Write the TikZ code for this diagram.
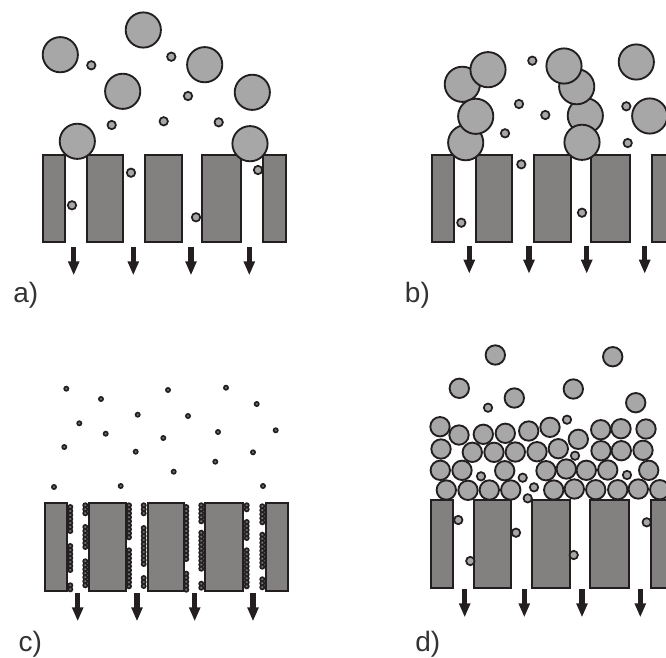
\documentclass[tikz,border=0pt]{standalone}
\usepackage{fontspec}
\setmainfont{Liberation Sans}
\usetikzlibrary{arrows.meta}
\definecolor{grainfill}{HTML}{A7A7A7}
\definecolor{wallfill}{HTML}{828180}
\definecolor{inkline}{HTML}{231F20}
\tikzset{
  biggrain/.style={draw=inkline, line width=1.4pt, fill=grainfill},
  smallgrain/.style={draw=inkline, line width=1.3pt, fill=grainfill},
  tinygrain/.style={draw=inkline, line width=1.25pt, fill=grainfill!60!inkline},
  wall/.style={draw=inkline, line width=1.3pt, fill=wallfill},
  flow/.style={draw=inkline, line width=4pt, -{Triangle[length=10.5pt,width=8pt,fill=inkline]}},
  panel/.style={anchor=base west, inner sep=0pt, font=\fontsize{21}{25}\selectfont, text=black!80}
}
\begin{document}
\begin{tikzpicture}[x=0.75pt, y=-0.75pt]
  \useasboundingbox (0,0) rectangle (666,657);
  \clip (0,0) rectangle (666,657);
  % a)
  \foreach \xa/\xb in {42.7/65, 86.7/123.3, 144.7/181.7, 202.3/240.7, 263/285.7}
    \draw[wall] (\xa,155) rectangle (\xb,241.7);
  \foreach \x/\y in {60.3/54.7, 143.3/30, 122.7/91.3, 204.7/64.7, 252.3/92.3, 77.3/141.3, 250/143.7}
    \draw[biggrain] (\x,\y) circle[radius=17.6];
  \foreach \x/\y in {91.3/65.3, 171.3/56.7, 188/96, 111.7/125, 163.7/121.3, 218.7/122.3, 131/172.7, 72/205.3, 196/217.3, 258/170}
    \draw[smallgrain] (\x,\y) circle[radius=4.2];
  \foreach \x in {73.7, 133.3, 191, 249.3}
    \draw[flow] (\x,247.3) -- (\x,275.3);
  \node[panel] (labela) at (13,302) {a)};
  % b)
  \foreach \xa/\xb in {432/454, 475.7/512.3, 533.7/570.7, 591.3/629.7, 652/680}
    \draw[wall] (\xa,155) rectangle (\xb,241.7);
  \foreach \x/\y in {462.3/84.3, 488/69.7, 465.7/142.7, 475.7/116.3, 585.3/115.7, 576.7/86.7, 564/66, 582/142.3, 636.3/62, 649.7/116}
    \draw[biggrain] (\x,\y) circle[radius=17.6];
  \foreach \x/\y in {532.3/60.7, 519/104, 545.3/115, 505/133.3, 521.3/164.3, 461.3/222.7, 582/212.7, 626.3/106.3, 627.7/143}
    \draw[smallgrain] (\x,\y) circle[radius=4.2];
  \foreach \x in {469.3, 529, 586.7, 644.7}
    \draw[flow] (\x,245.7) -- (\x,273.7);
  \node[panel] (labelb) at (404.7,302) {b)};
  % c)
  \foreach \xa/\xb in {45.3/66.7, 89.3/126, 147.7/184, 205.3/243.3, 265.7/288.3}
    \draw[wall] (\xa,503.3) rectangle (\xb,590.7);
  \foreach \x/\y in {66.3/388.7, 101/399, 168/390, 226/387.7, 256.7/404, 137.7/414.7, 188/416, 79.3/423.3, 105.7/433.7, 163.3/438, 218/432, 275.7/430.3, 64.3/447, 135.7/451.7, 253/452.3, 215.3/461.7, 173.7/471.7, 54/487, 120.7/486, 263/486}
    \draw[tinygrain] (\x,\y) circle[radius=2.1];
  \foreach \x/\y/\n in {70.3/507/6, 70.3/546/6, 70.3/585.3/1,
      85.3/505.3/2, 85.3/527/5, 85.3/561.3/6,
      129/505.3/8, 129/550.3/9,
      143.7/505.3/2, 143.7/528/9, 143.7/578/2,
      186.3/507/13, 186.3/573.7/4,
      201.3/505.3/4, 201.3/532.7/9, 201.3/583.7/1,
      246.7/505.3/1, 246.7/522/4, 246.7/550.3/9,
      262.3/506.3/4, 262.3/534.7/8, 262.3/579.3/2}
    \foreach \i in {0,...,\n}
      \draw[tinygrain] (\x,\y+4*\i) circle[radius=2.1];
  \foreach \x in {77.7, 137, 194.7, 253}
    \draw[flow] (\x,593.3) -- (\x,621.3);
  \node[panel] (labelc) at (18.3,651) {c)};
  % d)
  \foreach \xa/\xb in {431/453, 474.3/511.3, 532.3/569.7, 590.3/629, 651/680}
    \draw[wall] (\xa,500.3) rectangle (\xb,587.7);
  \foreach \x/\y in {495.3/355, 612.7/356.7, 459.3/388.3, 573.3/389, 514.3/398, 635.7/402.7,
      440/426.7, 459/435, 483.3/434.3, 505.3/433.3, 528.7/431, 550/427.3, 578.3/439.3, 600.7/429.7, 621/428.7, 646/429,
      441/449, 472.3/452.3, 494/452.3, 515.3/452, 537/451.7, 558.3/448.7, 601/450.7, 621.3/450.7, 643/450.3,
      440.3/470.3, 462/470.3, 504.7/470.7, 546/470.7, 566.3/469, 586.3/470.3, 607.7/470, 648.7/470.3,
      446.3/490, 468/490.3, 489.3/490, 510.7/490, 553.7/490, 574.3/489, 595.7/489.7, 617.7/489.7, 638.3/489, 659.7/489.7}
    \draw[biggrain] (\x,\y) circle[radius=9.7];
  \foreach \x/\y in {488/407.7, 567/419.7, 575/455.7, 481/476.3, 522.7/477.7, 534/487.3, 527.7/498.3, 627/475,
      458.3/520, 470.3/561, 516/532.7, 573.7/555, 646.7/522.3}
    \draw[smallgrain] (\x,\y) circle[radius=4.2];
  \foreach \x in {464.7, 524.3, 582, 640.3}
    \draw[flow] (\x,589.3) -- (\x,617.3);
  \node[panel] (labeld) at (415,651) {d)};
\end{tikzpicture}
\end{document}
